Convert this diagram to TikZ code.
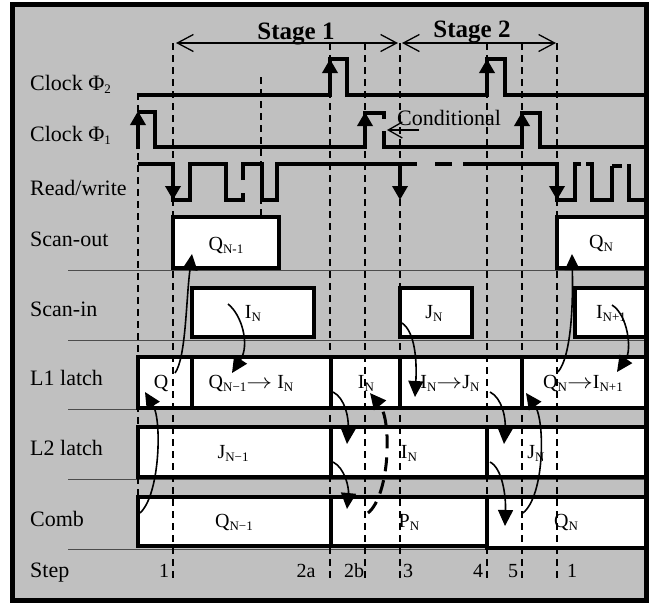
\documentclass[tikz,border=0pt]{standalone}
\usepackage{fontspec}
\setmainfont{Liberation Serif}
\usetikzlibrary{arrows.meta}
\newcommand\sbs[1]{\raisebox{-3pt}{\fontsize{13}{13}\selectfont #1}}
\newcommand\rarr{\scalebox{1.25}[1]{$\rightarrow$}}
\definecolor{bggray}{HTML}{C0C0C0}
\begin{document}
\begin{tikzpicture}[x=1pt,y=-1pt,
  lbl/.style={anchor=base west, inner sep=0pt, font=\fontsize{22}{24}\selectfont},
  txt/.style={anchor=base, inner sep=0pt, font=\fontsize{20}{24}\selectfont},
  stg/.style={anchor=base, inner sep=0pt, font=\fontsize{25}{28}\selectfont\bfseries},
  wave/.style={line width=3.2pt, line join=miter},
  box/.style={draw, line width=3.5pt, fill=white},
  sep/.style={line width=1pt, draw=black!70},
  vl/.style={line width=1.8pt, dash pattern=on 7pt off 5pt},
  clk/.style={line width=4.5pt, -{Triangle[length=14pt,width=15pt]}},
  cur/.style={line width=1.6pt, -{Triangle[length=16pt,width=15pt]}},
  stga/.style={line width=1.3pt, {Straight Barb[length=16pt,width=17pt]}-{Straight Barb[length=16pt,width=17pt]}},
  conda/.style={line width=1.3pt, -{Straight Barb[length=14pt,width=16pt]}},
]
\useasboundingbox (0,0) rectangle (649,603);
\fill[bggray] (12.5,4.5) rectangle (646.5,600.5);

% separators
\foreach \y in {270,340,409,479,549}
  \draw[sep] (68,\y) -- (645,\y);

% boxes
\draw[box] (173,217) rectangle (279,268);
\draw[box] (557,217) rectangle (647,268);
\draw[box] (192,288) rectangle (314,337);
\draw[box] (400,288) rectangle (472,337);
\draw[box] (575,288) rectangle (647,337);
\draw[box] (138,357) rectangle (192,408);
\draw[box] (192,357) rectangle (331,408);
\draw[box] (331,357) rectangle (400,408);
\draw[box] (400,357) rectangle (522,408);
\draw[box] (522,357) rectangle (647,408);
\draw[box] (138,427) rectangle (331,477);
\draw[box] (331,427) rectangle (487,477);
\draw[box] (487,427) rectangle (647,477);
\draw[box] (138,497) rectangle (331,546);
\draw[box] (331,497) rectangle (487,546);
\draw[box] (487,497) rectangle (647,548);

% waveforms
\draw[wave] (138,95) -- (330,95) -- (330,59) -- (347,59) -- (347,95) -- (487,95) -- (487,59) -- (505,59) -- (505,95) -- (646,95);
\draw[wave] (138,112) -- (155,112) -- (155,147) -- (365,147) -- (365,113) -- (384,113) -- (384,119);
\draw[wave] (384,131) -- (384,147) -- (522,147) -- (522,113) -- (540,113) -- (540,147) -- (646,147);
\draw[wave] (138,164) -- (173,164) -- (173,200) -- (190,200) -- (190,164) -- (226,164) -- (226,200) -- (243,200) -- (243,193);
\draw[wave] (243,180) -- (243,164) -- (262,164) -- (262,200) -- (277,200) -- (277,164) -- (417,164);
\draw[wave] (435,164) -- (452,164);
\draw[wave] (463,164) -- (557,164) -- (557,200) -- (575,200) -- (575,164) -- (581,164);
\draw[wave] (586,164) -- (592,164) -- (592,200) -- (612,200) -- (612,166);
\draw[wave] (612,166) -- (622,166);
\draw[wave] (627,166) -- (629,166) -- (629,200) -- (646,200);

% clock edge arrows
\coordinate (c2a0) at (330,96); \coordinate (c2a1) at (330,59);
\coordinate (c2b0) at (487,96); \coordinate (c2b1) at (487,59);
\coordinate (c1a0) at (138,149); \coordinate (c1a1) at (138,111);
\coordinate (c1b0) at (365,148); \coordinate (c1b1) at (365,112);
\coordinate (c1c0) at (522,148); \coordinate (c1c1) at (522,112);
\coordinate (rwa0) at (173,163); \coordinate (rwa1) at (173,200);
\coordinate (rwb0) at (400,163); \coordinate (rwb1) at (400,200);
\coordinate (rwc0) at (557,163); \coordinate (rwc1) at (557,200);
\foreach \p in {c2a,c2b,c1a,c1b,c1c,rwa,rwb,rwc}
  \draw[clk] (\p0) -- (\p1);

% dashed verticals
\foreach \x/\ya/\yb in {138/93/548, 173/43/580, 261/77/217, 330/43/578, 365/43/578, 400/43/578, 487/43/578, 522/43/578, 557/43/578}
  \draw[vl] (\x,\ya) -- (\x,\yb);

% labels
\node[lbl] (lp2) at (30,90) {Clock Φ\sbs{2}};
\node[lbl] (lp1) at (30,141) {Clock Φ\sbs{1}};
\node[lbl] (lrw) at (30,195) {Read/write};
\node[lbl] (lso) at (30,246) {Scan-out};
\node[lbl] (lsi) at (30,316) {Scan-in};
\node[lbl] (ll1) at (30,385) {L1 latch};
\node[lbl] (ll2) at (30,455) {L2 latch};
\node[lbl] (lcb) at (30,526) {Comb};
\node[lbl] (lst) at (30,577) {Step};
\node[lbl] (lcond) at (397,125) {Conditional};

\node[stg] (st1) at (296,39) {Stage 1};
\node[stg] (st2) at (472,37) {Stage 2};

% box texts
\node[txt] (tso1) at (226,250) {Q\sbs{N-1}};
\node[txt] (tso2) at (601,248) {Q\sbs{N}};
\node[txt] (tsi1) at (253,318) {I\sbs{N}};
\node[txt] (tsi2) at (434,318) {J\sbs{N}};
\node[txt] (tsi3) at (611,318) {I\sbs{N+1}};
\node[txt] (tl1a) at (161,388) {Q};
\node[txt] (tl1b) at (251,388) {Q\sbs{N−1}\rarr{} I\sbs{N}};
\node[txt] (tl1c) at (366,388) {I\sbs{N}};
\node[txt] (tl1d) at (450,388) {I\sbs{N}\rarr{}J\sbs{N}};
\node[txt] (tl1e) at (583,388) {Q\sbs{N}\rarr{}I\sbs{N+1}};
\node[txt] (tl2a) at (233,458) {J\sbs{N−1}};
\node[txt] (tl2b) at (409,458) {I\sbs{N}};
\node[txt] (tl2c) at (536,458) {J\sbs{N}};
\node[txt] (tca) at (234,527) {Q\sbs{N−1}};
\node[txt] (tcb) at (409,527) {P\sbs{N}};
\node[txt] (tcc) at (566,527) {Q\sbs{N}};

% step numbers
\node[txt] (s1) at (164,577) {1};
\node[txt] (s2a) at (306,577) {2a};
\node[txt] (s2b) at (354,577) {2b};
\node[txt] (s3) at (408,577) {3};
\node[txt] (s4) at (478,577) {4};
\node[txt] (s5) at (513,577) {5};
\node[txt] (s1b) at (572,577) {1};

% curved transfer arrows
\coordinate (a1s) at (140,513); \coordinate (a1e) at (145,392);
\coordinate (a2s) at (175,373); \coordinate (a2e) at (192,254);
\coordinate (a3s) at (228,304); \coordinate (a3e) at (232,373);
\coordinate (a4s) at (333,392); \coordinate (a4e) at (347,444);
\coordinate (a5s) at (333,462); \coordinate (a5e) at (347,509);
\coordinate (a6s) at (368,513); \coordinate (a6e) at (370,393);
\coordinate (a7s) at (402,323); \coordinate (a7e) at (415,397);
\coordinate (a8s) at (490,392); \coordinate (a8e) at (504,444);
\coordinate (a9s) at (490,462); \coordinate (a9e) at (505,526);
\coordinate (a10s) at (523,513); \coordinate (a10e) at (526,393);
\coordinate (a11s) at (558,372); \coordinate (a11e) at (572,254);
\coordinate (a12s) at (612,305); \coordinate (a12e) at (617,372);

\draw[cur] (a1s) .. controls (160,495) and (162,420) .. (a1e);
\draw[cur] (a2s) .. controls (186,358) and (186,300) .. (a2e);
\draw[cur] (a3s) .. controls (242,315) and (250,345) .. (a3e);
\draw[cur] (a4s) .. controls (345,398) and (349,418) .. (a4e);
\draw[cur] (a5s) .. controls (345,468) and (349,488) .. (a5e);
\draw[line width=3pt, dash pattern=on 14pt off 9pt, -{Triangle[length=16pt,width=15pt]}] (a6s) .. controls (390,495) and (392,420) .. (a6e);
\draw[cur] (a7s) .. controls (415,332) and (417,360) .. (a7e);
\draw[cur] (a8s) .. controls (502,398) and (506,418) .. (a8e);
\draw[cur] (a9s) .. controls (502,468) and (506,495) .. (a9e);
\draw[cur] (a10s) .. controls (545,495) and (545,420) .. (a10e);
\draw[cur] (a11s) .. controls (572,355) and (573,300) .. (a11e);
\draw[cur] (a12s) .. controls (628,315) and (632,350) .. (a12e);

% stage arrows
\coordinate (sg1a) at (176,43); \coordinate (sg1b) at (398,43);
\coordinate (sg2a) at (402,43); \coordinate (sg2b) at (556,43);
\draw[stga] (sg1a) -- (sg1b);
\draw[stga] (sg2a) -- (sg2b);
\coordinate (cda) at (419,130); \coordinate (cdb) at (387,130);
\draw[conda] (cda) -- (cdb);

% frame
\draw[line width=5pt] (12.5,4.5) rectangle (646.5,600.5);
\end{tikzpicture}
\end{document}
